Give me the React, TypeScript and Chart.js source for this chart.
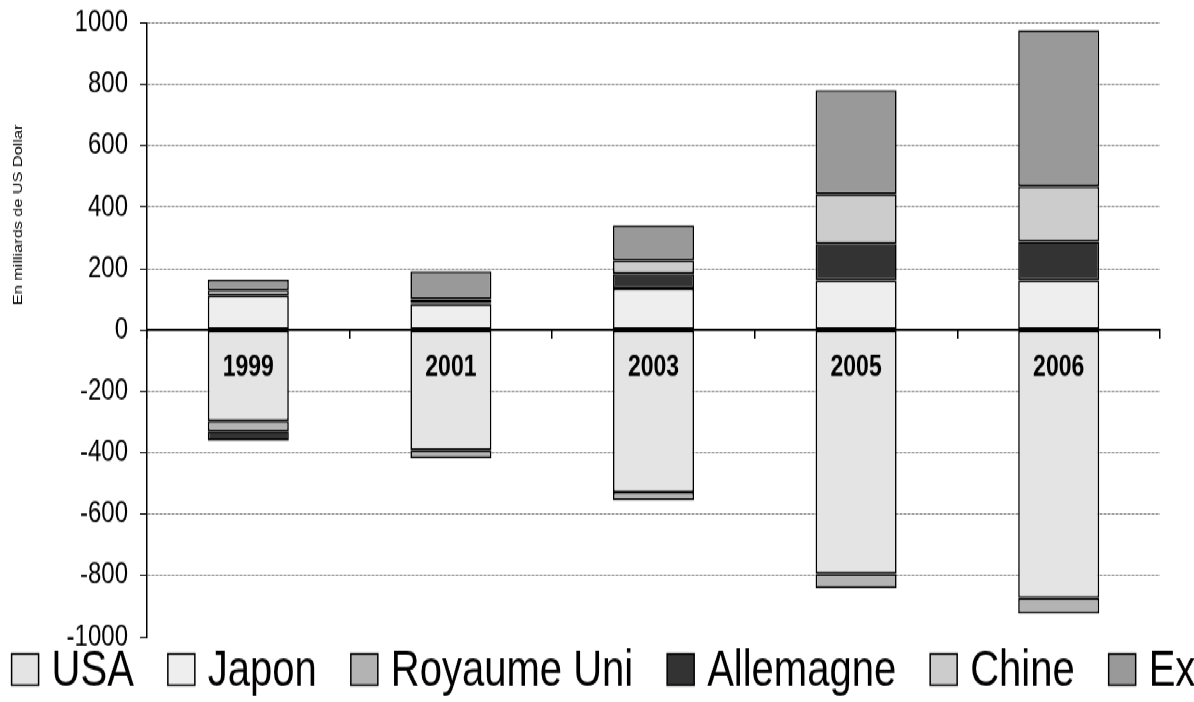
import React, { useEffect, useRef } from "react";
import { Chart, registerables } from "chart.js";

Chart.register(...registerables);

// ---- Data ----
const years = ["1999", "2001", "2003", "2005", "2006"];
const seriesNames = ["USA", "Japon", "Royaume Uni", "Allemagne", "Chine", "Exportateurs de pétrole"];
const usa = [-297, -391, -528, -794, -873];
const japon = [112, 85, 135, 162, 162];
const royaumeUni = [-33, -27, -27, -47, -51];
const allemagne = [-30, 2, 48, 119, 126];
const chine = [18, 13, 44, 162, 180];
const exportateurs = [34, 91, 114, 338, 508];
const yMin = -1000;
const yMax = 1000;
const yStep = 200;
const yTitle = "En milliards de US Dollar";

const seriesValues = [usa, japon, royaumeUni, allemagne, chine, exportateurs];
const seriesColors = ["#e4e4e4", "#eeeeee", "#b3b3b3", "#333333", "#cccccc", "#999999"];

const FONT = '"Liberation Sans", Arial, Helvetica, sans-serif';
const W = 1194;
const H = 562; // drawn height, stretched vertically to 702
const SCALE_Y = 702 / H;

const legendPlugin = {
  id: "bottomLegend",
  afterDraw(chart: any) {
    const ctx = chart.ctx;
    ctx.save();
    ctx.font = `40px ${FONT}`;
    ctx.textBaseline = "middle";
    ctx.textAlign = "left";
    let x = 11.6;
    const yc = chart.chartArea.bottom + 26;
    chart.data.datasets.forEach((ds: any) => {
      const bw = 27, bh = 25;
      ctx.fillStyle = ds.backgroundColor;
      ctx.fillRect(x, yc - bh / 2, bw, bh);
      ctx.strokeStyle = "#000";
      ctx.lineWidth = 1.5;
      ctx.strokeRect(x, yc - bh / 2, bw, bh);
      ctx.fillStyle = "#000";
      ctx.fillText(ds.label, x + bw + 13, yc + 2);
      x += bw + 13 + ctx.measureText(ds.label).width + 34;
    });
    ctx.restore();
  },
};

const labelsPlugin = {
  id: "yearLabels",
  afterDatasetsDraw(chart: any) {
    const ctx = chart.ctx;
    const xs = chart.scales.x;
    const ys = chart.scales.y;
    const y0 = ys.getPixelForValue(0);
    ctx.save();
    ctx.font = `bold 23px ${FONT}`;
    ctx.fillStyle = "#000";
    ctx.textAlign = "center";
    ctx.textBaseline = "middle";
    (chart.data.labels as string[]).forEach((lab, i) => {
      ctx.fillText(lab, xs.getPixelForValue(i), y0 + 30.5);
    });
    ctx.restore();
  },
};

const titlePlugin = {
  id: "yTitle",
  afterDraw(chart: any) {
    const ctx = chart.ctx;
    const ys = chart.scales.y;
    ctx.save();
    ctx.font = `13px ${FONT}`;
    ctx.fillStyle = "#000";
    ctx.textAlign = "center";
    ctx.textBaseline = "middle";
    ctx.translate(18, ys.getPixelForValue(375));
    ctx.rotate(-Math.PI / 2);
    ctx.fillText(yTitle, 0, 0);
    ctx.restore();
  },
};

export default function App() {
  const canvasRef = useRef<HTMLCanvasElement | null>(null);

  useEffect(() => {
    document.body.style.margin = "0";
    const canvas = canvasRef.current;
    if (!canvas) return;
    const chart = new Chart(canvas, {
      type: "bar",
      data: {
        labels: years,
        datasets: seriesNames.map((name, i) => ({
          label: name,
          data: seriesValues[i],
          backgroundColor: seriesColors[i],
          borderColor: "#000",
          borderWidth: 1.6,
          borderSkipped: false,
          barPercentage: 0.4,
          categoryPercentage: 1.0,
        })),
      },
      options: {
        responsive: true,
        maintainAspectRatio: false,
        animation: false,
        layout: { padding: { left: 0, right: 34, top: 18.4, bottom: 52 } },
        plugins: {
          legend: { display: false },
          tooltip: { enabled: false },
          title: { display: false },
        },
        scales: {
          x: {
            type: "category",
            stacked: true,
            position: { y: 0 } as any,
            offset: true,
            z: 1,
            grid: {
              offset: true,
              drawOnChartArea: false,
              drawTicks: true,
              tickLength: 6,
              color: "#000",
              lineWidth: 1.5,
            },
            border: { display: true, color: "#000", width: 2 },
            ticks: { display: false },
          },
          y: {
            type: "linear",
            stacked: true,
            min: yMin,
            max: yMax,
            afterFit: (scale: any) => {
              scale.width = 147;
              scale.paddingTop = 0;
              scale.paddingBottom = 0;
            },
            ticks: {
              stepSize: yStep,
              color: "#000",
              font: { family: FONT, size: 24 },
              padding: 12,
              callback: (v: any) => String(v),
            },
            grid: {
              color: (c: any) =>
                c.tick && (c.tick.value === yMin || c.tick.value === 0) ? "rgba(0,0,0,0)" : "#808080",
              tickColor: "#000",
              tickLength: 7,
              lineWidth: 1,
            },
            border: { display: true, color: "#000", width: 1.5, dash: [3, 1] },
          },
        },
      },
      plugins: [labelsPlugin, legendPlugin, titlePlugin],
    });
    return () => chart.destroy();
  }, []);

  return (
    <div
      style={{
        position: "absolute",
        left: 0,
        top: 0,
        width: W,
        height: H,
        transform: `scaleY(${SCALE_Y})`,
        transformOrigin: "top left",
        background: "#fff",
      }}
    >
      <canvas ref={canvasRef} style={{ width: "100%", height: "100%" }} />
    </div>
  );
}
